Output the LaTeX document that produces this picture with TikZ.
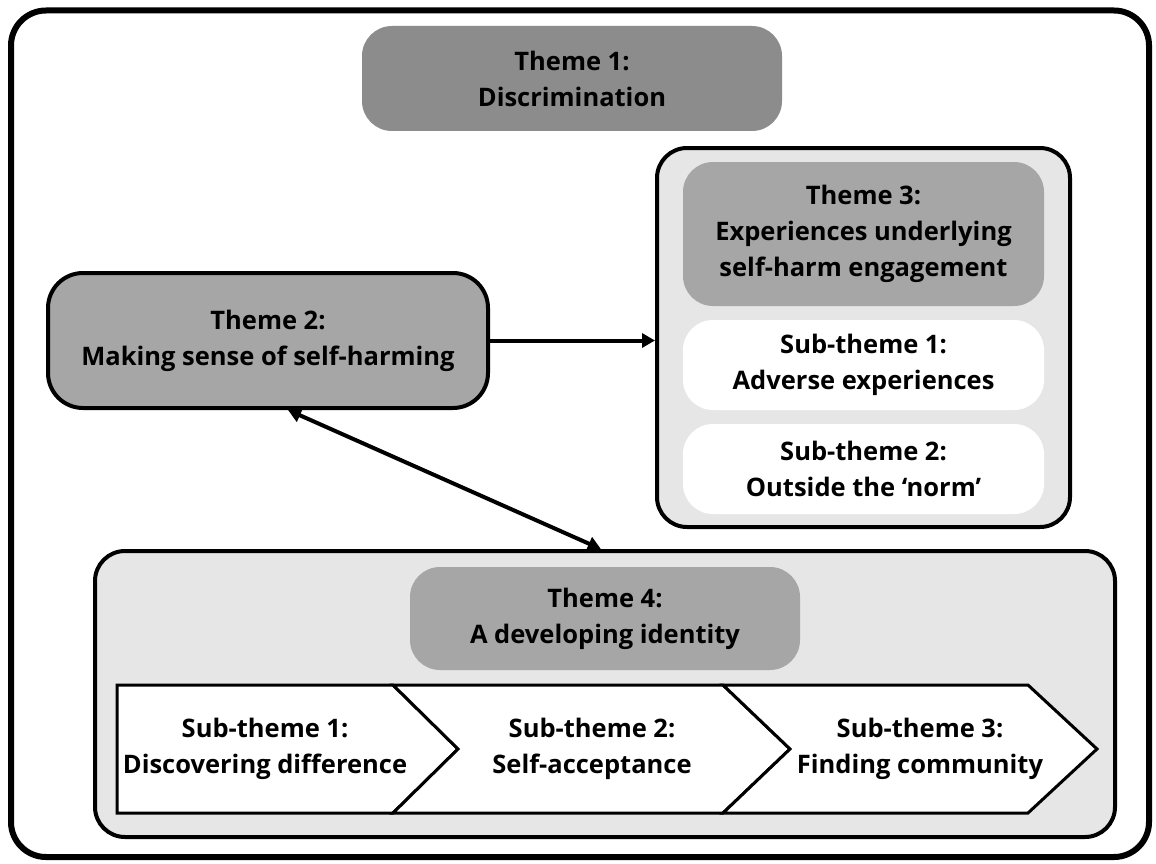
\documentclass[tikz,border=0pt]{standalone}
\usepackage{fontspec}
\setmainfont{Open Sans}
\usetikzlibrary{arrows.meta,calc}
\definecolor{darkgr}{HTML}{8C8C8C}
\definecolor{midgr}{HTML}{A6A6A6}
\definecolor{lightgr}{HTML}{E6E6E6}
\begin{document}
\begin{tikzpicture}[x=1pt,y=-1pt,
  txt/.style={align=center, font=\fontsize{25.5}{36}\selectfont\bfseries, inner sep=0pt},
  box/.style={txt, rectangle, rounded corners=30pt},
  framed/.style={draw=black, line width=4pt},
  chev/.style={draw=black, line width=3pt, fill=white, line join=miter},
  conn/.style={line width=4pt, draw=black},
  tip/.style={-{Triangle[length=13pt,width=14pt]}},
]
\useasboundingbox (0,0) rectangle (1156,864);
\fill[white] (0,0) rectangle (1156,864);
% outer frame
\draw[line width=6pt, rounded corners=35pt] (11,10.5) rectangle (1149,857);

% Theme 1
\node[box, fill=darkgr, minimum width=420pt, minimum height=105pt] (t1) at (572,78.5) {Theme 1:\\Discrimination};

% Theme 2
\node[box, framed, fill=midgr, rounded corners=35pt, minimum width=440pt, minimum height=135pt] (t2) at (268,340.5) {Theme 2:\\Making sense of self-harming};

% Theme 3 group
\node[box, framed, fill=lightgr, minimum width=413pt, minimum height=379pt] (t3box) at (863.5,337.5) {};
\node[box, fill=midgr, minimum width=361pt, minimum height=144pt] (t3) at (863.5,234) {Theme 3:\\Experiences underlying\\self-harm engagement};
\node[box, fill=white, rounded corners=30pt, minimum width=361pt, minimum height=90pt] (s31) at (863.5,365) {Sub-theme 1:\\Adverse experiences};
\node[box, fill=white, rounded corners=30pt, minimum width=361pt, minimum height=90pt] (s32) at (863.5,469) {Sub-theme 2:\\Outside the ‘norm’};

% Theme 4 group
\node[box, framed, fill=lightgr, minimum width=1020pt, minimum height=286pt] (t4box) at (605,694) {};
\node[box, fill=midgr, minimum width=390pt, minimum height=103pt] (t4) at (605,618.5) {Theme 4:\\A developing identity};

% chevrons
\draw[chev] (117,685) -- (393,685) -- (458,749) -- (393,813) -- (117,813) -- cycle;
\draw[chev] (393,685) -- (723,685) -- (790,749) -- (723,813) -- (393,813) -- (458,749) -- cycle;
\draw[chev] (723,685) -- (1028,685) -- (1097,749) -- (1028,813) -- (723,813) -- (790,749) -- cycle;
\node[txt] (s41) at (265,749) {Sub-theme 1:\\Discovering difference};
\node[txt] (s42) at (592,749) {Sub-theme 2:\\Self-acceptance};
\node[txt] (s43) at (920,749) {Sub-theme 3:\\Finding community};

% connectors
\draw[conn, tip] (t2.east) -- (t2.east -| t3box.west);
\draw[conn, {Triangle[length=13pt,width=14pt]}-{Triangle[length=13pt,width=14pt]}]
  ($(t2.south west)!0.545!(t2.south east)$) -- ($(t4box.north west)!0.496!(t4box.north east)$);
\end{tikzpicture}
\end{document}
